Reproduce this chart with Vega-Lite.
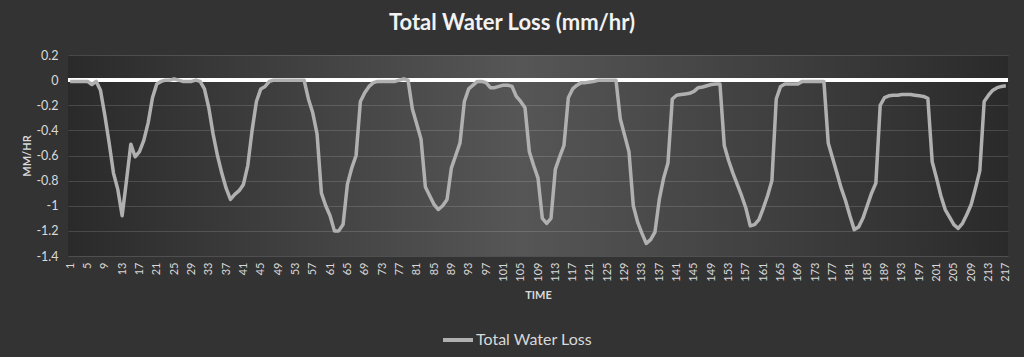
{
  "$schema": "https://vega.github.io/schema/vega-lite/v6.json",
  "width": 940,
  "height": 201,
  "autosize": "none",
  "padding": {"left": 68, "top": 55, "right": 16, "bottom": 101},
  "background": "#333333",
  "config": {
    "font": "Lato",
    "axisY": {"labelOverlap": false},
    "view": {
      "stroke": null,
      "fill": {"gradient": "linear", "x1": 0, "y1": 0, "x2": 1, "y2": 0,
        "stops": [{"offset": 0, "color": "#2a2a2a"}, {"offset": 0.48, "color": "#565656"}, {"offset": 1, "color": "#2a2a2a"}]}
    }
  },
  "title": {
    "text": "Total Water Loss (mm/hr)",
    "fontSize": 22,
    "fontWeight": "bold",
    "color": "#f2f2f2",
    "anchor": "middle",
    "dx": -26,
    "offset": -3,
    "baseline": "alphabetic"
  },
  "data": {"values": [
    {"t":1,"v":-0.01},{"t":2,"v":-0.01},{"t":3,"v":-0.01},{"t":4,"v":-0.01},{"t":5,"v":-0.01},
    {"t":6,"v":-0.035},{"t":7,"v":-0.01},{"t":8,"v":-0.08},{"t":9,"v":-0.28},{"t":10,"v":-0.5},
    {"t":11,"v":-0.74},{"t":12,"v":-0.87},{"t":13,"v":-1.08},{"t":14,"v":-0.8},{"t":15,"v":-0.51},
    {"t":16,"v":-0.61},{"t":17,"v":-0.57},{"t":18,"v":-0.48},{"t":19,"v":-0.34},{"t":20,"v":-0.14},
    {"t":21,"v":-0.03},{"t":22,"v":-0.01},{"t":23,"v":0},{"t":24,"v":0},{"t":25,"v":0.01},
    {"t":26,"v":0},{"t":27,"v":-0.01},{"t":28,"v":-0.01},{"t":29,"v":-0.01},{"t":30,"v":0},
    {"t":31,"v":-0.01},{"t":32,"v":-0.07},{"t":33,"v":-0.22},{"t":34,"v":-0.43},{"t":35,"v":-0.6},
    {"t":36,"v":-0.74},{"t":37,"v":-0.86},{"t":38,"v":-0.95},{"t":39,"v":-0.91},{"t":40,"v":-0.88},
    {"t":41,"v":-0.83},{"t":42,"v":-0.68},{"t":43,"v":-0.4},{"t":44,"v":-0.17},{"t":45,"v":-0.07},
    {"t":46,"v":-0.05},{"t":47,"v":-0.01},{"t":48,"v":0},{"t":49,"v":0},{"t":50,"v":0},
    {"t":51,"v":0},{"t":52,"v":0},{"t":53,"v":0},{"t":54,"v":0},{"t":55,"v":0},
    {"t":56,"v":-0.15},{"t":57,"v":-0.26},{"t":58,"v":-0.43},{"t":59,"v":-0.9},{"t":60,"v":-1.0},
    {"t":61,"v":-1.08},{"t":62,"v":-1.2},{"t":63,"v":-1.2},{"t":64,"v":-1.15},{"t":65,"v":-0.83},
    {"t":66,"v":-0.7},{"t":67,"v":-0.6},{"t":68,"v":-0.17},{"t":69,"v":-0.1},{"t":70,"v":-0.05},
    {"t":71,"v":-0.02},{"t":72,"v":-0.01},{"t":73,"v":-0.01},{"t":74,"v":-0.01},{"t":75,"v":-0.01},
    {"t":76,"v":-0.01},{"t":77,"v":0},{"t":78,"v":0.01},{"t":79,"v":0},{"t":80,"v":-0.23},
    {"t":81,"v":-0.35},{"t":82,"v":-0.47},{"t":83,"v":-0.85},{"t":84,"v":-0.92},{"t":85,"v":-0.99},
    {"t":86,"v":-1.03},{"t":87,"v":-1.0},{"t":88,"v":-0.95},{"t":89,"v":-0.7},{"t":90,"v":-0.6},
    {"t":91,"v":-0.5},{"t":92,"v":-0.17},{"t":93,"v":-0.07},{"t":94,"v":-0.04},{"t":95,"v":-0.01},
    {"t":96,"v":-0.01},{"t":97,"v":-0.02},{"t":98,"v":-0.06},{"t":99,"v":-0.06},{"t":100,"v":-0.05},
    {"t":101,"v":-0.04},{"t":102,"v":-0.04},{"t":103,"v":-0.05},{"t":104,"v":-0.13},{"t":105,"v":-0.17},
    {"t":106,"v":-0.22},{"t":107,"v":-0.57},{"t":108,"v":-0.68},{"t":109,"v":-0.78},{"t":110,"v":-1.1},
    {"t":111,"v":-1.14},{"t":112,"v":-1.1},{"t":113,"v":-0.71},{"t":114,"v":-0.61},{"t":115,"v":-0.52},
    {"t":116,"v":-0.14},{"t":117,"v":-0.07},{"t":118,"v":-0.04},{"t":119,"v":-0.02},{"t":120,"v":-0.02},
    {"t":121,"v":-0.015},{"t":122,"v":-0.01},{"t":123,"v":0},{"t":124,"v":0},{"t":125,"v":0},
    {"t":126,"v":0},{"t":127,"v":0},{"t":128,"v":-0.31},{"t":129,"v":-0.44},{"t":130,"v":-0.57},
    {"t":131,"v":-1.0},{"t":132,"v":-1.13},{"t":133,"v":-1.22},{"t":134,"v":-1.3},{"t":135,"v":-1.27},
    {"t":136,"v":-1.21},{"t":137,"v":-0.95},{"t":138,"v":-0.78},{"t":139,"v":-0.66},{"t":140,"v":-0.15},
    {"t":141,"v":-0.12},{"t":142,"v":-0.115},{"t":143,"v":-0.11},{"t":144,"v":-0.105},{"t":145,"v":-0.09},
    {"t":146,"v":-0.06},{"t":147,"v":-0.055},{"t":148,"v":-0.045},{"t":149,"v":-0.035},{"t":150,"v":-0.03},
    {"t":151,"v":-0.03},{"t":152,"v":-0.52},{"t":153,"v":-0.64},{"t":154,"v":-0.74},{"t":155,"v":-0.83},
    {"t":156,"v":-0.92},{"t":157,"v":-1.02},{"t":158,"v":-1.16},{"t":159,"v":-1.15},{"t":160,"v":-1.11},
    {"t":161,"v":-1.02},{"t":162,"v":-0.92},{"t":163,"v":-0.8},{"t":164,"v":-0.15},{"t":165,"v":-0.05},
    {"t":166,"v":-0.03},{"t":167,"v":-0.03},{"t":168,"v":-0.03},{"t":169,"v":-0.03},{"t":170,"v":-0.01},
    {"t":171,"v":-0.01},{"t":172,"v":-0.01},{"t":173,"v":-0.01},{"t":174,"v":-0.01},{"t":175,"v":-0.01},
    {"t":176,"v":-0.5},{"t":177,"v":-0.62},{"t":178,"v":-0.74},{"t":179,"v":-0.86},{"t":180,"v":-0.96},
    {"t":181,"v":-1.08},{"t":182,"v":-1.19},{"t":183,"v":-1.17},{"t":184,"v":-1.1},{"t":185,"v":-1.0},
    {"t":186,"v":-0.9},{"t":187,"v":-0.82},{"t":188,"v":-0.2},{"t":189,"v":-0.14},{"t":190,"v":-0.125},
    {"t":191,"v":-0.12},{"t":192,"v":-0.12},{"t":193,"v":-0.115},{"t":194,"v":-0.115},{"t":195,"v":-0.115},
    {"t":196,"v":-0.12},{"t":197,"v":-0.125},{"t":198,"v":-0.13},{"t":199,"v":-0.145},{"t":200,"v":-0.65},
    {"t":201,"v":-0.78},{"t":202,"v":-0.92},{"t":203,"v":-1.03},{"t":204,"v":-1.09},{"t":205,"v":-1.15},
    {"t":206,"v":-1.18},{"t":207,"v":-1.14},{"t":208,"v":-1.07},{"t":209,"v":-0.99},{"t":210,"v":-0.86},
    {"t":211,"v":-0.72},{"t":212,"v":-0.17},{"t":213,"v":-0.12},{"t":214,"v":-0.08},{"t":215,"v":-0.06},
    {"t":216,"v":-0.05},{"t":217,"v":-0.045}
  ]},
  "layer": [
    {
      "mark": {"type": "rule", "color": "#ffffff", "strokeWidth": 3},
      "encoding": {
        "y": {
          "datum": 0, "type": "quantitative",
          "scale": {"domain": [-1.4, 0.2], "nice": false, "zero": false},
          "axis": {
            "title": "MM/HR", "titleFontSize": 11, "titleFontWeight": "bold", "titleColor": "#d9d9d9", "titlePadding": 3,
            "values": [-1.4, -1.2, -1, -0.8, -0.6, -0.4, -0.2, 0, 0.2],
            "labelExpr": "'' + round(datum.value * 10) / 10",
            "labelOverlap": false,
            "labelFontSize": 12.5, "labelColor": "#d9d9d9", "labelPadding": 10,
            "ticks": false, "domain": false, "grid": true, "gridColor": "#ffffff", "gridOpacity": 0.14, "gridWidth": 1
          }
        }
      }
    },
    {
      "mark": {"type": "line", "strokeWidth": 3.5, "strokeJoin": "round"},
      "encoding": {
        "x": {
          "field": "t", "type": "ordinal",
          "scale": {"type": "point", "padding": 0.5},
          "axis": {
            "title": "TIME", "titleFontSize": 11, "titleFontWeight": "bold", "titleColor": "#d9d9d9", "titlePadding": 8,
            "labelAngle": 270, "labelFontSize": 11, "labelColor": "#d9d9d9", "labelPadding": 6,
            "labelOverlap": false, "ticks": false, "domain": false, "grid": false,
            "labelExpr": "(datum.value - 1) % 4 == 0 ? datum.label : ''"
          }
        },
        "y": {
          "field": "v", "type": "quantitative",
          "scale": {"domain": [-1.4, 0.2], "nice": false, "zero": false},
          "axis": {
            "title": "MM/HR", "titleFontSize": 11, "titleFontWeight": "bold", "titleColor": "#d9d9d9", "titlePadding": 3,
            "values": [-1.4, -1.2, -1, -0.8, -0.6, -0.4, -0.2, 0, 0.2],
            "labelExpr": "'' + round(datum.value * 10) / 10",
            "labelOverlap": false,
            "labelFontSize": 12.5, "labelColor": "#d9d9d9", "labelPadding": 10,
            "ticks": false, "domain": false, "grid": true, "gridColor": "#ffffff", "gridOpacity": 0.14, "gridWidth": 1
          }
        },
        "color": {
          "datum": "Total Water Loss",
          "scale": {"range": ["#b0b0b0"]},
          "legend": {
            "title": null, "orient": "none", "legendX": 373, "legendY": 268,
            "symbolType": "stroke", "symbolSize": 900, "symbolStrokeWidth": 4,
            "labelFontSize": 16, "labelColor": "#d9d9d9", "labelOffset": 1
          }
        }
      }
    }
  ]
}
